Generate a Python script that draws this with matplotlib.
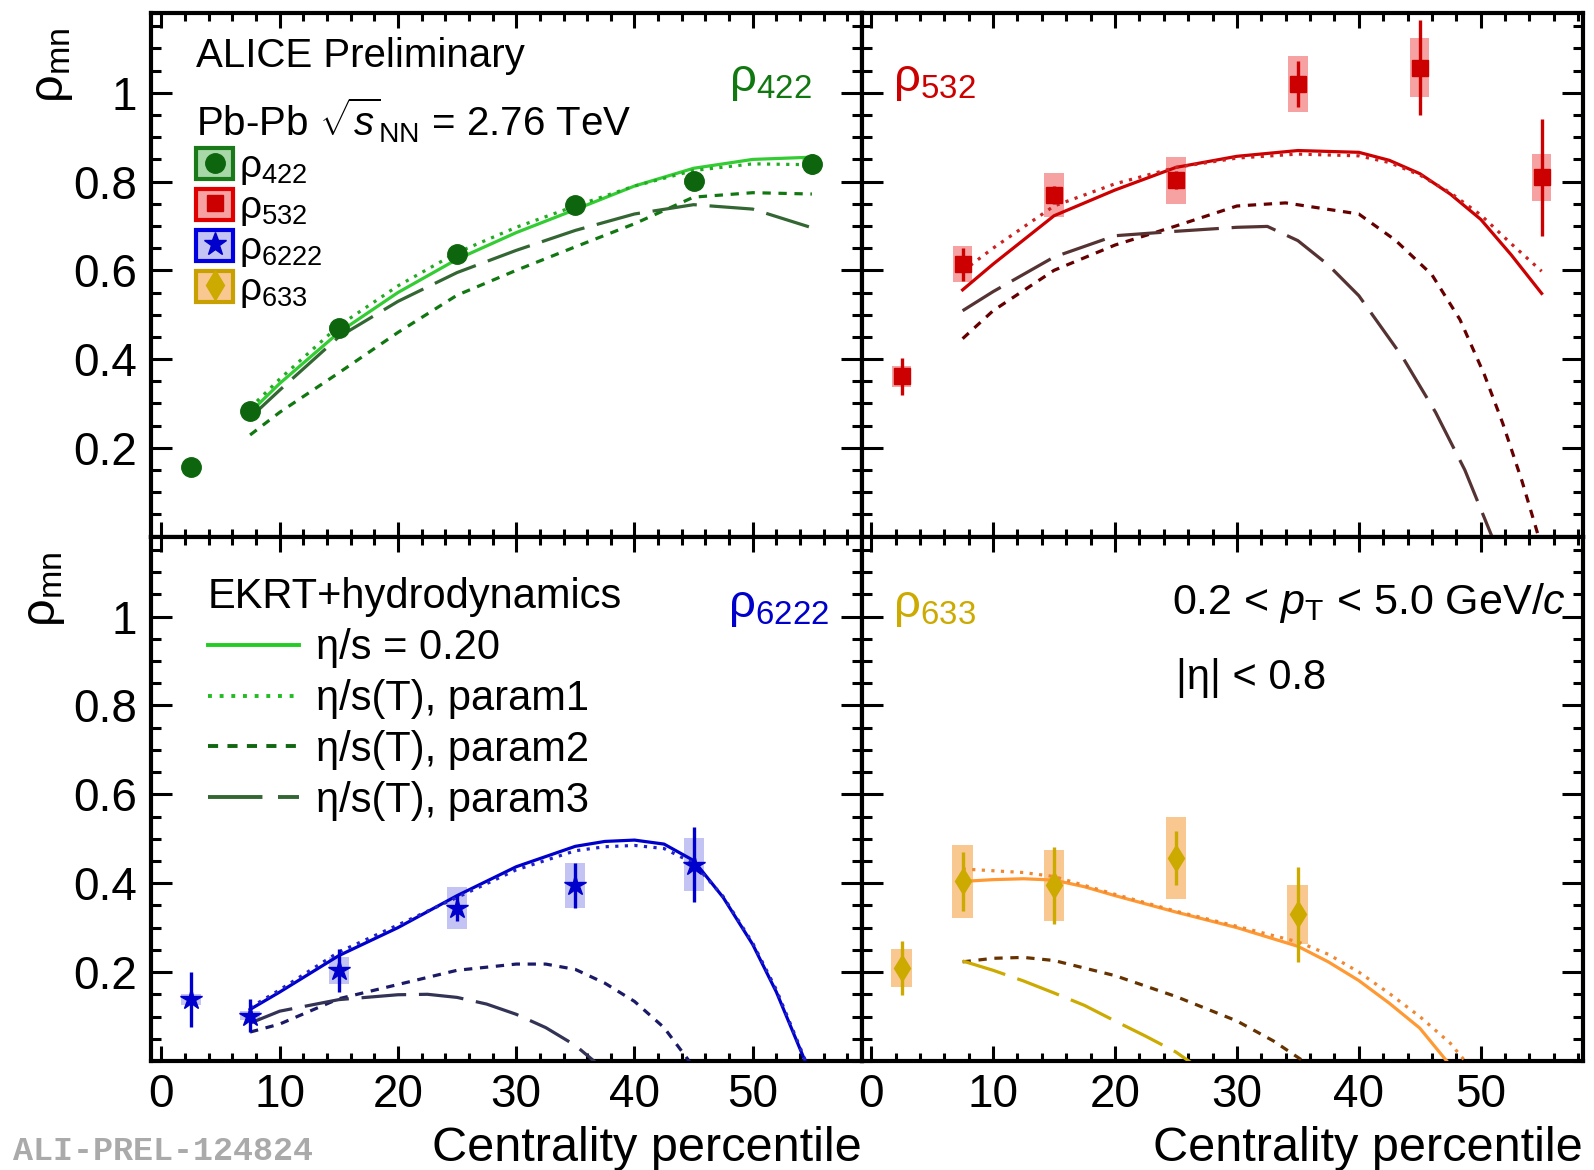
import numpy as np
import matplotlib
matplotlib.use('Agg')
import matplotlib.pyplot as plt
from matplotlib.patches import Patch
from matplotlib.lines import Line2D
from matplotlib.legend_handler import HandlerTuple
from matplotlib.ticker import MultipleLocator, FixedLocator

plt.rcParams['font.family'] = ['Liberation Sans', 'DejaVu Sans']
plt.rcParams['mathtext.fontset'] = 'custom'
plt.rcParams['mathtext.rm'] = 'Liberation Sans'
plt.rcParams['mathtext.it'] = 'Liberation Sans:italic'
plt.rcParams['mathtext.bf'] = 'Liberation Sans:bold'

# ---------------- data ----------------
cent = [2.5, 7.5, 15, 25, 35, 45, 55]

rho422 = [0.157, 0.283, 0.470, 0.637, 0.748, 0.801, 0.840]
rho422_stat = [0.005, 0.005, 0.005, 0.005, 0.006, 0.008, 0.022]
rho422_sys = [0.005, 0.006, 0.006, 0.006, 0.007, 0.008, 0.010]

rho532 = [0.361, 0.614, 0.770, 0.803, 1.020, 1.057, 0.810]
rho532_stat = [0.041, 0.037, 0.020, 0.020, 0.052, 0.107, 0.132]
rho532_sys = [0.023, 0.040, 0.050, 0.053, 0.064, 0.066, 0.053]

cent6222 = [2.5, 7.5, 15, 25, 35, 45]
rho6222 = [0.139, 0.102, 0.204, 0.344, 0.395, 0.442]
rho6222_stat = [0.062, 0.037, 0.048, 0.030, 0.050, 0.084]
rho6222_sys = [0.012, 0.010, 0.030, 0.048, 0.050, 0.060]

cent633 = [2.5, 7.5, 15, 25, 35]
rho633 = [0.209, 0.404, 0.395, 0.457, 0.330]
rho633_stat = [0.060, 0.067, 0.086, 0.060, 0.107]
rho633_sys = [0.043, 0.083, 0.079, 0.092, 0.067]

# EKRT+hydro model curves
m422_x = [7.5, 10, 15, 20, 25, 30, 35, 40, 45, 50, 55]
m422_p0 = [0.280, 0.345, 0.460, 0.550, 0.625, 0.685, 0.737, 0.790, 0.830, 0.850, 0.855]
m422_p1 = [0.290, 0.355, 0.475, 0.565, 0.640, 0.697, 0.745, 0.790, 0.825, 0.840, 0.838]
m422_p2 = [0.229, 0.280, 0.369, 0.460, 0.544, 0.600, 0.653, 0.705, 0.765, 0.775, 0.772]
m422_p3 = [0.268, 0.330, 0.450, 0.530, 0.595, 0.645, 0.690, 0.727, 0.748, 0.738, 0.696]

m532_x = [7.5, 10, 15, 20, 25, 30, 35, 40, 42.5, 45, 47.5, 50, 52.5, 55]
m532_p0 = [0.556, 0.614, 0.723, 0.781, 0.832, 0.857, 0.870, 0.866, 0.848, 0.818, 0.772, 0.715, 0.635, 0.548]
m532_p1 = [0.598, 0.650, 0.745, 0.795, 0.832, 0.853, 0.862, 0.858, 0.843, 0.815, 0.775, 0.725, 0.660, 0.598]
m532_p2_x = [7.5, 10, 15, 20, 25, 30, 34, 40, 43, 46, 48.3, 50.3, 51.8, 53.4, 54.8]
m532_p2 = [0.446, 0.509, 0.600, 0.657, 0.700, 0.745, 0.752, 0.727, 0.668, 0.590, 0.489, 0.365, 0.256, 0.124, -0.005]
m532_p3_x = [7.5, 10, 15, 20, 25, 30, 32.5, 35, 37.5, 40, 43.6, 46.3, 48.7, 51.0]
m532_p3 = [0.509, 0.552, 0.630, 0.678, 0.688, 0.697, 0.699, 0.667, 0.612, 0.543, 0.404, 0.280, 0.150, -0.005]

m6222_x = [7.5, 10, 15, 20, 25, 30, 35, 37.5, 40, 42.5, 45, 47.5, 50, 52, 54.5]
m6222_p0 = [0.116, 0.155, 0.237, 0.300, 0.372, 0.437, 0.483, 0.494, 0.497, 0.488, 0.451, 0.368, 0.262, 0.155, -0.005]
m6222_p1 = [0.120, 0.160, 0.245, 0.306, 0.368, 0.430, 0.473, 0.482, 0.485, 0.478, 0.445, 0.370, 0.265, 0.160, -0.002]
m6222_p2_x = [7.5, 10, 15, 20, 25, 30, 32.5, 35, 37.5, 40, 42.5, 44.7]
m6222_p2 = [0.065, 0.083, 0.140, 0.172, 0.204, 0.218, 0.218, 0.206, 0.175, 0.134, 0.075, -0.003]
m6222_p3_x = [7.5, 10, 15, 20, 22.5, 25, 27.5, 30, 32.5, 35, 36.7]
m6222_p3 = [0.085, 0.112, 0.138, 0.149, 0.150, 0.143, 0.128, 0.105, 0.075, 0.035, -0.003]

m633_x = [7.5, 10, 12.5, 15, 17.5, 20, 25, 30, 35, 37.5, 40, 42.5, 45, 47.3]
m633_p0 = [0.404, 0.408, 0.410, 0.407, 0.392, 0.372, 0.335, 0.300, 0.258, 0.223, 0.181, 0.130, 0.074, -0.003]
m633_p1_x = [7.5, 10, 12.5, 15, 17.5, 20, 25, 30, 35, 37.5, 40, 42.5, 45, 47.5, 48.8]
m633_p1 = [0.432, 0.428, 0.424, 0.415, 0.395, 0.375, 0.337, 0.303, 0.268, 0.240, 0.200, 0.152, 0.100, 0.040, -0.003]
m633_p2_x = [7.5, 10, 12.5, 15, 20, 25, 30, 33, 35.6]
m633_p2 = [0.223, 0.231, 0.233, 0.226, 0.192, 0.145, 0.090, 0.045, -0.003]
m633_p3_x = [7.5, 10, 12.5, 15, 17.5, 20, 22.5, 25, 26.2]
m633_p3 = [0.225, 0.204, 0.180, 0.153, 0.125, 0.090, 0.056, 0.020, -0.003]

# ---------------- figure ----------------
fig = plt.figure(figsize=(15.94, 11.70), dpi=100)
L, M, R = 0.0945, 0.5405, 0.993
T, MID, B = 0.9889, 0.5414, 0.0932
ax_tl = fig.add_axes([L, MID, M - L, T - MID])
ax_tr = fig.add_axes([M, MID, R - M, T - MID])
ax_bl = fig.add_axes([L, B, M - L, MID - B])
ax_br = fig.add_axes([M, B, R - M, MID - B])

DOT = (0, (1.0, 2.0))
DASH = (0, (2.6, 2.4))
LDASH = (0, (14, 4))
LW = 2.3

def style_axes(ax, left, bottom, ylab_x=-0.106):
    ax.set_ylim(0, 1.18)
    if left:
        ax.set_xlim(-0.91, 59.2)
    else:
        ax.set_xlim(-0.79, 58.38)
    ax.xaxis.set_major_locator(FixedLocator([0, 10, 20, 30, 40, 50]))
    ax.xaxis.set_minor_locator(MultipleLocator(2))
    ax.yaxis.set_major_locator(FixedLocator([0.2, 0.4, 0.6, 0.8, 1.0]))
    ax.yaxis.set_minor_locator(MultipleLocator(0.05))
    for s in ax.spines.values():
        s.set_linewidth(3.0)
    ax.tick_params(axis='both', which='both', direction='in', top=True, right=True, width=2.2)
    ax.tick_params(axis='y', which='major', length=15)
    ax.tick_params(axis='y', which='minor', length=7.5)
    ax.tick_params(axis='x', which='major', length=11)
    ax.tick_params(axis='x', which='minor', length=5.5)
    if left:
        ax.set_yticklabels(['0.2', '0.4', '0.6', '0.8', '1'], fontsize=33)
        ax.tick_params(axis='y', pad=10)
        ax.set_ylabel('ρ$_{\\mathrm{mn}}$', loc='top', fontsize=35)
        ax.yaxis.set_label_coords(ylab_x, 0.971)
    else:
        ax.set_yticklabels([])
    if bottom:
        ax.set_xticklabels(['0', '10', '20', '30', '40', '50'], fontsize=33)
        ax.tick_params(axis='x', pad=9)
        ax.set_xlabel('Centrality percentile', loc='right', fontsize=35, labelpad=6)
    else:
        ax.set_xticklabels([])

def draw_data(ax, x, y, stat, sys, color, boxcolor, marker, ms, bw=1.6):
    y = np.asarray(y); sys = np.asarray(sys)
    ax.bar(x, 2 * sys, bottom=y - sys, width=bw, color=boxcolor, zorder=1, linewidth=0)
    ax.errorbar(x, y, yerr=stat, fmt=marker, color=color, ms=ms, mec=color,
                elinewidth=2.4, capsize=0, zorder=5)

def draw_models(ax, xs, ys, colors):
    styles = ['-', DOT, DASH, LDASH]
    for x, y, c, ls in zip(xs, ys, colors, styles):
        ax.plot(x, y, color=c, ls=ls, lw=LW, zorder=3)

# top-left rho422
draw_models(ax_tl, [m422_x] * 4, [m422_p0, m422_p1, m422_p2, m422_p3],
            ['#33cc33', '#22aa22', '#117711', '#336633'])
draw_data(ax_tl, cent, rho422, rho422_stat, rho422_sys, '#0d660d', '#a8d8a8', 'o', 14)

# top-right rho532
draw_models(ax_tr, [m532_x, m532_x, m532_p2_x, m532_p3_x], [m532_p0, m532_p1, m532_p2, m532_p3],
            ['#cc0000', '#cc2222', '#660000', '#553333'])
draw_data(ax_tr, cent, rho532, rho532_stat, rho532_sys, '#cc0000', '#f6a2a2', 's', 12)

# bottom-left rho6222
draw_models(ax_bl, [m6222_x, m6222_x, m6222_p2_x, m6222_p3_x], [m6222_p0, m6222_p1, m6222_p2, m6222_p3],
            ['#0000cc', '#2222cc', '#1a1a66', '#333355'])
draw_data(ax_bl, cent6222, rho6222, rho6222_stat, rho6222_sys, '#0000cc', '#c4c4f4', '*', 16, bw=1.7)

# bottom-right rho633
draw_models(ax_br, [m633_x, m633_p1_x, m633_p2_x, m633_p3_x], [m633_p0, m633_p1, m633_p2, m633_p3],
            ['#ff9933', '#ee8833', '#663300', '#ccaa00'])
draw_data(ax_br, cent633, rho633, rho633_stat, rho633_sys, '#ccaa00', '#f8c890', 'd', 13, bw=1.7)

style_axes(ax_tl, True, False, ylab_x=-0.106)
style_axes(ax_tr, False, False)
style_axes(ax_bl, True, True, ylab_x=-0.118)
style_axes(ax_br, False, True)

# ---------------- texts ----------------
ax_tl.text(0.064, 0.918, 'ALICE Preliminary', transform=ax_tl.transAxes, fontsize=29, va='center')
ax_tl.text(0.064, 0.795, r'Pb-Pb $\sqrt{s}_{\mathrm{NN}}$ = 2.76 TeV', transform=ax_tl.transAxes,
           fontsize=29, va='center')

lab_kw = dict(fontsize=34, va='center')
ax_tl.text(0.93, 0.87, 'ρ$_{422}$', color='#117711', ha='right', transform=ax_tl.transAxes, **lab_kw)
ax_tr.text(0.044, 0.87, 'ρ$_{532}$', color='#cc0000', ha='left', transform=ax_tr.transAxes, **lab_kw)
ax_bl.text(0.812, 0.865, 'ρ$_{6222}$', color='#0000cc', ha='left', transform=ax_bl.transAxes, **lab_kw)
ax_br.text(0.044, 0.865, 'ρ$_{633}$', color='#ccaa00', ha='left', transform=ax_br.transAxes, **lab_kw)

ax_br.text(0.976, 0.873, r'0.2 < $p_{\mathrm{T}}$ < 5.0 GeV/$c$', transform=ax_br.transAxes,
           fontsize=31, ha='right', va='center')
ax_br.text(0.436, 0.73, '|η| < 0.8', transform=ax_br.transAxes, fontsize=30, ha='left', va='center')

fig.text(13 / 1594, 1 - 1151 / 1170, 'ALI-PREL-124824', fontsize=24, color='#aaaaaa',
         family='Liberation Mono', weight='bold', va='center', ha='left')

# ---------------- legends ----------------
mk_handles = [
    (Patch(facecolor='#a8d8a8', edgecolor='#1a7a1a', lw=3), Line2D([], [], ls='none', marker='o', color='#0d660d', ms=14)),
    (Patch(facecolor='#f6a2a2', edgecolor='#e00000', lw=3), Line2D([], [], ls='none', marker='s', color='#cc0000', ms=11)),
    (Patch(facecolor='#c4c4f4', edgecolor='#0000e0', lw=3), Line2D([], [], ls='none', marker='*', color='#0000cc', ms=17)),
    (Patch(facecolor='#f8c890', edgecolor='#c8a000', lw=3), Line2D([], [], ls='none', marker='d', color='#ccaa00', ms=15)),
]
mk_labels = ['ρ$_{422}$', 'ρ$_{532}$', 'ρ$_{6222}$', 'ρ$_{633}$']
leg1 = ax_tl.legend(mk_handles, mk_labels, handler_map={tuple: HandlerTuple(ndivide=1, pad=0)},
                    loc='upper left', bbox_to_anchor=(0.064, 0.742), frameon=False, fontsize=28,
                    handlelength=0.95, handleheight=0.85, handletextpad=0.15, labelspacing=0.05,
                    borderpad=0, borderaxespad=0)

ln_handles = [
    Line2D([], [], color='#22cc22', ls='-', lw=LW + 0.5),
    Line2D([], [], color='#22bb22', ls=DOT, lw=LW + 0.5),
    Line2D([], [], color='#116611', ls=DASH, lw=LW + 0.5),
    Line2D([], [], color='#336633', ls=LDASH, lw=LW + 0.5),
]
ln_labels = ['η/s = 0.20', 'η/s(T), param1', 'η/s(T), param2', 'η/s(T), param3']
leg2 = ax_bl.legend(ln_handles, ln_labels, loc='upper left', bbox_to_anchor=(0.080, 0.922),
                    frameon=False, fontsize=30, title='EKRT+hydrodynamics', title_fontsize=30,
                    alignment='left', handlelength=2.2, handletextpad=0.4, labelspacing=0.26,
                    borderpad=0, borderaxespad=0)

fig.savefig('out.png', dpi=100)
